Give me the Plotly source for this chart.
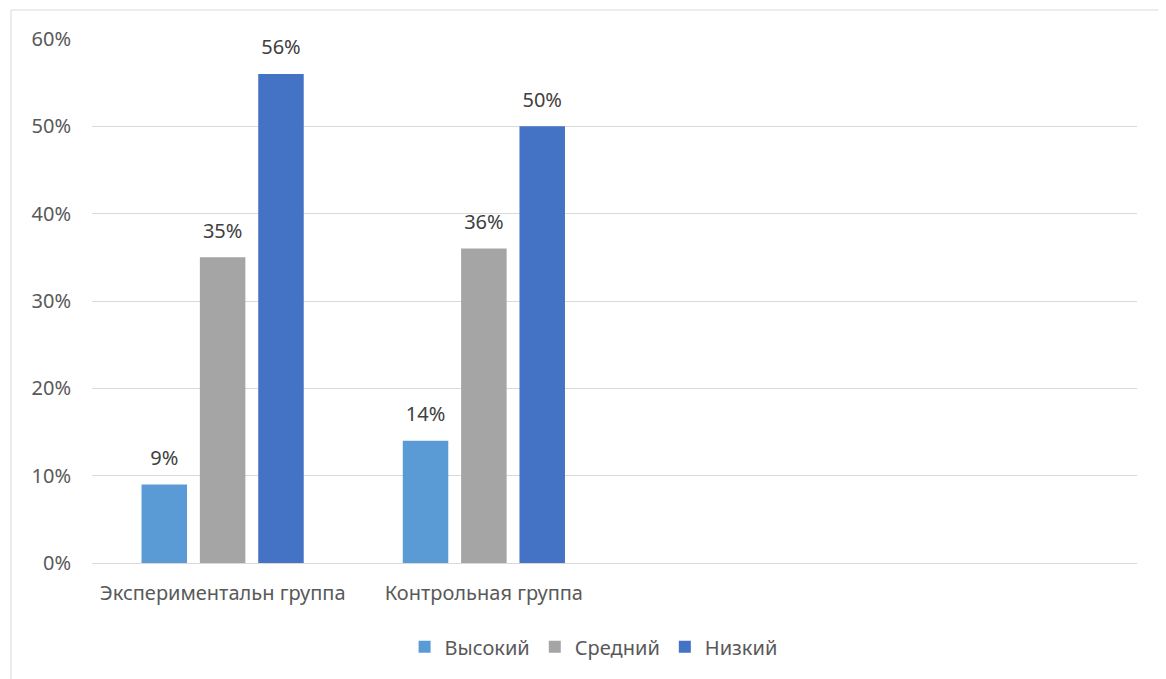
import plotly.graph_objects as go

categories = ["Экспериментальн группа", "Контрольная группа"]
series_names = ["Высокий", "Средний", "Низкий"]
vysokiy = [9, 14]
sredniy = [35, 36]
nizkiy = [56, 50]
y_ticks = [0, 10, 20, 30, 40, 50, 60]
y_tick_labels = ["0%", "10%", "20%", "30%", "40%", "50%", "60%"]

colors = ["#5B9BD5", "#A5A5A5", "#4472C4"]
values = [vysokiy, sredniy, nizkiy]

FONT = "Noto Sans, Open Sans, sans-serif"
FS = 20

fig = go.Figure()
for i, (name, vals, col) in enumerate(zip(series_names, values, colors)):
    fig.add_trace(go.Bar(
        x=categories, y=vals, name=name, marker_color=col,
        marker_line_width=0, offsetgroup=str(i),
    ))
for i, (name, vals) in enumerate(zip(series_names, values)):
    fig.add_trace(go.Scatter(
        x=categories, y=vals, mode="markers+text", offsetgroup=str(i),
        marker=dict(size=22, color="rgba(0,0,0,0)"),
        text=[f"{v}%" for v in vals], textposition="top center",
        textfont=dict(size=FS, color="#404040", family=FONT),
        showlegend=False, hoverinfo="skip", cliponaxis=False,
    ))

fig.update_layout(
    width=1158, height=671,
    margin=dict(l=84, r=29, t=31, b=116),
    paper_bgcolor="white", plot_bgcolor="white",
    barmode="group", bargap=0.33, bargroupgap=0.22,
    scattermode="group", scattergap=0.33,
    font=dict(family=FONT, size=FS, color="#595959"),
    showlegend=True,
    legend=dict(orientation="h", x=0.48, xanchor="center", y=-0.16, yanchor="middle",
                font=dict(size=FS, color="#595959"), itemwidth=30, traceorder="normal"),
    xaxis=dict(range=[-0.5, 3.5], showgrid=False, showline=False, ticks="outside",
               ticklen=12, tickcolor="rgba(0,0,0,0)", tickfont=dict(size=FS, color="#595959")),
    yaxis=dict(range=[0, 60], tickvals=y_ticks, ticktext=y_tick_labels,
               showgrid=True, gridcolor="#D9D9D9", gridwidth=1, zeroline=True,
               zerolinecolor="#D9D9D9", zerolinewidth=1, showline=False,
               ticklabelstandoff=20, tickfont=dict(size=FS, color="#595959")),
)

fig.add_shape(type="rect", xref="paper", yref="paper",
              x0=(11 - 92) / 1045, x1=(1165 - 92) / 1045, y0=-0.3, y1=(563 - 10) / 524,
              line=dict(color="#D9D9D9", width=1), fillcolor="rgba(0,0,0,0)", layer="below")

fig.write_html("out.html")
